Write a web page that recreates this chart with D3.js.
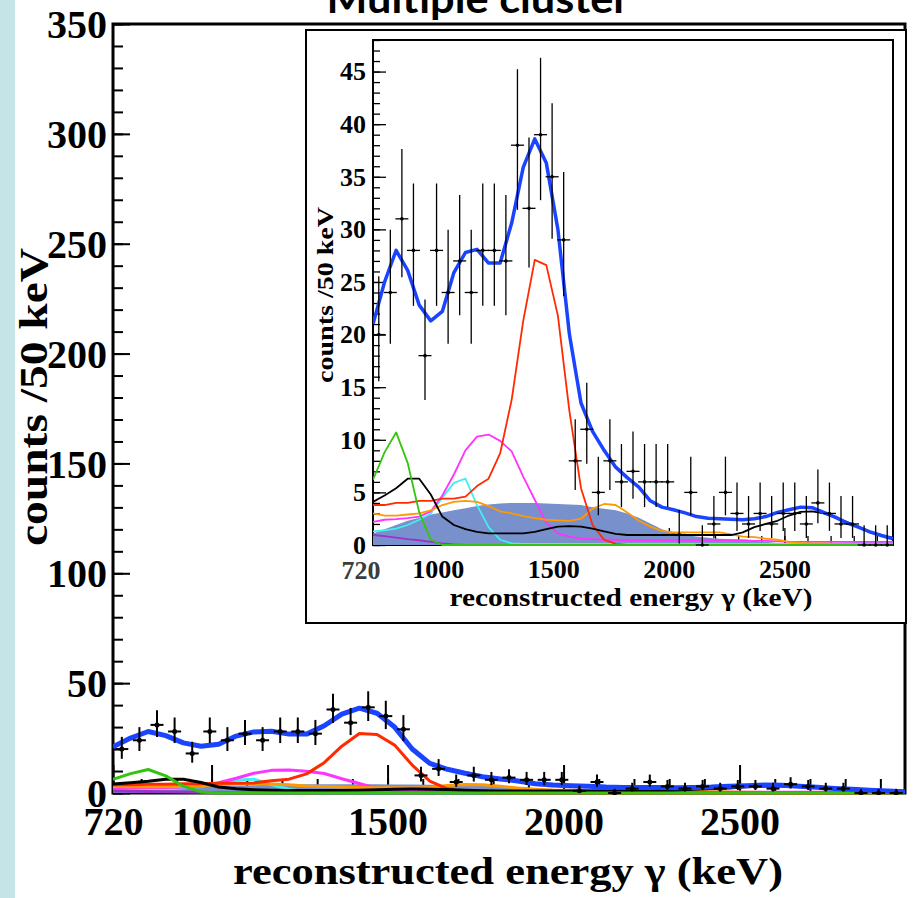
<!DOCTYPE html>
<html>
<head>
<meta charset="utf-8">
<script src="https://cdn.jsdelivr.net/npm/d3@7"></script>
<style>
  body { margin: 0; background: #fff; }
  svg { display: block; }
</style>
</head>
<body>
<svg id="chart" width="914" height="898"></svg>
<script>
// measured counts, one per 50 keV bin
const binCenters = [745, 795, 845, 895, 945, 995, 1045, 1095, 1145, 1195,
  1245, 1295, 1345, 1395, 1445, 1495, 1545, 1595, 1645, 1695,
  1745, 1795, 1845, 1895, 1945, 1995, 2045, 2095, 2145, 2195,
  2245, 2295, 2345, 2395, 2445, 2495, 2545, 2595, 2645, 2695,
  2745, 2795, 2845, 2895, 2945];
const counts = [20, 24, 31, 28, 18, 28, 24, 27, 24, 28,
  28, 27, 38, 32, 39, 35, 29, 8, 11, 5,
  8, 6, 7, 6, 6, 6, 1, 5, 0, 2,
  5, 3, 2, 3, 2, 3, 3, 2, 4, 3,
  2, 2, 0, 0, 0];

// fit components, sampled every 50 keV
const gridE = [720, 770, 820, 870, 920, 970, 1020, 1070, 1120, 1170,
  1220, 1270, 1320, 1370, 1420, 1470, 1520, 1570, 1620, 1670,
  1720, 1770, 1820, 1870, 1920, 1970, 2020, 2070, 2120, 2170,
  2220, 2270, 2320, 2370, 2420, 2470, 2520, 2570, 2620, 2670,
  2720, 2770, 2820, 2870, 2920, 2970];
const totalFit = [21.0, 25.0, 28.0, 26.1, 22.8, 21.3, 22.2, 25.9, 27.8, 28.1,
  26.8, 26.8, 30.6, 35.9, 38.6, 36.3, 30.0, 20.0, 13.5, 10.8,
  9.0, 7.4, 6.4, 5.5, 4.2, 3.6, 3.35, 3.05, 2.7, 2.55,
  2.5, 2.45, 2.4, 2.5, 2.7, 3.1, 3.35, 3.6, 3.55, 3.1,
  2.65, 2.1, 1.7, 1.25, 0.9, 0.6];
const redPeak = [3.8, 3.8, 4.0, 4.0, 4.2, 4.2, 4.4, 4.4, 4.6, 5.6,
  6.3, 8.7, 13.8, 21.3, 27.1, 26.6, 21.8, 12.7, 5.4, 1.9,
  0.5, 0.1, 0, 0, 0, 0, 0, 0, 0, 0,
  0, 0, 0, 0, 0, 0, 0, 0, 0, 0,
  0, 0, 0, 0, 0, 0];
const greenPeak = [6.2, 8.8, 10.7, 7.8, 3.1, 0.5, 0, 0, 0, 0,
  0, 0, 0, 0, 0, 0, 0, 0, 0, 0,
  0, 0, 0, 0, 0, 0, 0, 0, 0, 0,
  0, 0, 0, 0, 0, 0, 0, 0, 0, 0,
  0, 0, 0, 0, 0, 0];
const blackComp = [4.1, 4.7, 5.4, 6.3, 6.3, 4.8, 2.7, 1.9, 1.5, 1.25,
  1.1, 1.1, 1.1, 1.1, 1.25, 1.5, 1.75, 1.8, 1.75, 1.55,
  1.3, 1.05, 0.95, 0.95, 0.95, 0.95, 0.95, 0.95, 0.95, 0.95,
  0.95, 0.95, 1.2, 1.7, 2.0, 2.3, 2.8, 3.15, 3.2, 3.0,
  2.6, 2.2, 1.75, 1.2, 0.9, 0.7];
const magentaComp = [2.2, 2.4, 2.45, 2.55, 2.7, 3.2, 4.7, 6.7, 9.0, 10.3,
  10.5, 9.9, 8.9, 6.5, 4.3, 2.1, 1.1, 0.8, 0.6, 0.55,
  0.5, 0.5, 0.45, 0.45, 0.45, 0.45, 0.45, 0.45, 0.45, 0.45,
  0.45, 0.45, 0.45, 0.4, 0.4, 0.35, 0.3, 0.3, 0.3, 0.3,
  0.3, 0.3, 0.3, 0.3, 0.3, 0.3];
const cyanComp = [1.3, 1.4, 1.55, 1.9, 2.4, 3.0, 4.5, 5.9, 6.3, 3.8,
  1.7, 0.5, 0.15, 0.1, 0.1, 0.1, 0.1, 0.1, 0.1, 0.1,
  0.1, 0.1, 0.1, 0.1, 0.1, 0.1, 0.1, 0.1, 0.1, 0.1,
  0.1, 0.1, 0.1, 0.1, 0.1, 0.1, 0.1, 0.1, 0.1, 0.1,
  0.1, 0.15, 0.2, 0.2, 0.2, 0.2];
const orangeComp = [3.0, 2.8, 2.8, 2.9, 3.0, 3.3, 3.8, 4.1, 4.2, 4.1,
  3.7, 3.2, 3.0, 2.75, 2.55, 2.4, 2.35, 2.3, 2.5, 3.45,
  3.9, 3.8, 3.1, 2.3, 1.75, 1.35, 1.2, 1.2, 1.2, 1.2,
  1.2, 1.0, 0.8, 0.75, 0.6, 0.5, 0.3, 0.2, 0.15, 0.15,
  0.1, 0.1, 0.1, 0.1, 0.1, 0.1];
const filledBkg = [1.1, 1.5, 1.9, 2.3, 2.6, 2.9, 3.1, 3.3, 3.5, 3.7,
  3.85, 3.95, 4.0, 4.0, 4.0, 3.95, 3.9, 3.85, 3.8, 3.6,
  3.45, 3.3, 3.0, 2.6, 2.05, 1.5, 1.15, 0.95, 0.8, 0.7,
  0.6, 0.55, 0.45, 0.4, 0.3, 0.2, 0.15, 0.1, 0.1, 0.1,
  0.1, 0.1, 0.1, 0.1, 0.1, 0.1];
const purpleComp = [0.95, 0.85, 0.7, 0.55, 0.45, 0.3, 0.15, 0.05, 0, 0,
  0, 0, 0, 0, 0, 0, 0, 0, 0, 0,
  0, 0, 0, 0, 0, 0, 0, 0, 0, 0,
  0, 0, 0, 0, 0, 0, 0, 0, 0, 0,
  0, 0, 0, 0, 0, 0];

const mainYTicks = [0, 50, 100, 150, 200, 250, 300, 350];
const insetYTicks = [0, 5, 10, 15, 20, 25, 30, 35, 40, 45];
const xMajorTicks = [1000, 1500, 2000, 2500];

const serif = '"Liberation Serif", "Times New Roman", serif';
const svg = d3.select('#chart');

svg.append('rect').attr('width', 914).attr('height', 898).attr('fill', '#fff');
svg.append('rect').attr('width', 15).attr('height', 898).attr('fill', '#c4e4e8');

// poisson (Gehrels) error bars like ROOT's kPoisson
const errLo = n => n > 0 ? n - Math.sqrt(n - 0.25) : 0;
const errHi = n => n + 1 + Math.sqrt(n + 0.75);

const comps = [
  { vals: cyanComp, color: '#3ff0f0' },
  { vals: magentaComp, color: '#ff33ff' },
  { vals: orangeComp, color: '#ff9900' },
  { vals: purpleComp, color: '#9933cc' },
  { vals: redPeak, color: '#ff2a00' },
  { vals: blackComp, color: '#000' },
  { vals: greenPeak, color: '#33c40f' }
];

function panel(cfg) {
  const x = d3.scaleLinear().domain([720, 2970]).range([cfg.left, cfg.right]);
  const y = d3.scaleLinear().domain([0, cfg.ymax]).range([cfg.bottom, cfg.top]);
  const g = svg.append('g');

  const clipId = 'clip-' + cfg.name;
  g.append('clipPath').attr('id', clipId).append('rect')
    .attr('x', cfg.left).attr('y', cfg.top)
    .attr('width', cfg.right - cfg.left).attr('height', cfg.bottom - cfg.top + 2);

  // ticks (ROOT style, pointing inside)
  const yMinor = g.append('g').attr('transform', `translate(${cfg.left},0)`)
    .call(d3.axisLeft(y).tickValues(d3.range(0, cfg.ymax + 0.01, cfg.yMinorStep))
      .tickSize(-cfg.yMinorLen).tickFormat(''));
  const yMajor = g.append('g').attr('transform', `translate(${cfg.left},0)`)
    .call(d3.axisLeft(y).tickValues(cfg.yTicks).tickSize(-cfg.yMajorLen)
      .tickPadding(cfg.yPad).tickFormat(d3.format('d')));
  const xMinor = g.append('g').attr('transform', `translate(0,${cfg.bottom})`)
    .call(d3.axisBottom(x).tickValues(d3.range(800, 2970, 100)).tickSize(-cfg.xMinorLen).tickFormat(''));
  const xMajor = g.append('g').attr('transform', `translate(0,${cfg.bottom})`)
    .call(d3.axisBottom(x).tickValues(cfg.xTicks).tickSize(-cfg.xMajorLen)
      .tickPadding(cfg.xPad).tickFormat(d3.format('d')));
  [yMinor, yMajor, xMinor, xMajor].forEach(a => {
    a.select('.domain').remove();
    a.selectAll('line').attr('stroke', '#000').attr('stroke-width', cfg.tickW);
  });
  yMajor.selectAll('text').attr('font-family', serif).attr('font-weight', 'bold')
    .attr('font-size', cfg.tickFont).attr('fill', '#000').attr('dy', cfg.yLabelDy);
  xMajor.selectAll('text').attr('font-family', serif).attr('font-weight', 'bold')
    .attr('font-size', cfg.tickFont).attr('fill', '#000').attr('dy', '0.72em');

  // frame
  g.append('rect').attr('x', cfg.left).attr('y', cfg.top)
    .attr('width', cfg.right - cfg.left).attr('height', cfg.bottom - cfg.top)
    .attr('fill', 'none').attr('stroke', '#000').attr('stroke-width', cfg.frameW);

  const plot = g.append('g').attr('clip-path', `url(#${clipId})`);

  plot.append('path')
    .datum(gridE.map((e, i) => [e, filledBkg[i]]))
    .attr('fill', '#7890cc')
    .attr('d', d3.area().x(d => x(d[0])).y0(y(0)).y1(d => y(d[1])));

  const line = d3.line().x(d => x(d[0])).y(d => y(d[1]));
  comps.forEach(c => {
    plot.append('path')
      .datum(gridE.map((e, i) => [e, c.vals[i]]))
      .attr('fill', 'none').attr('stroke', c.color)
      .attr('stroke-width', cfg.compW).attr('stroke-linejoin', 'round')
      .attr('d', line);
  });

  plot.append('path')
    .datum(gridE.map((e, i) => [e, totalFit[i]]))
    .attr('fill', 'none').attr('stroke', '#1a44ff')
    .attr('stroke-width', cfg.fitW).attr('stroke-linejoin', 'round')
    .attr('d', line);

  // data points
  const pts = binCenters.map((c, i) => ({ c: c, n: counts[i] }));
  const dg = plot.append('g').attr('stroke', '#000').attr('stroke-width', cfg.errW);
  dg.selectAll('.ev').data(pts).join('line').attr('class', 'ev')
    .attr('x1', d => x(d.c)).attr('x2', d => x(d.c))
    .attr('y1', d => y(errLo(d.n))).attr('y2', d => y(errHi(d.n)));
  dg.selectAll('.eh').data(pts).join('line').attr('class', 'eh')
    .attr('x1', d => x(d.c) - cfg.markW / 2).attr('x2', d => x(d.c) + cfg.markW / 2)
    .attr('y1', d => y(d.n)).attr('y2', d => y(d.n));
  dg.selectAll('circle').data(pts).join('circle')
    .attr('cx', d => x(d.c)).attr('cy', d => y(d.n)).attr('r', cfg.dotR)
    .attr('fill', '#000').attr('stroke', 'none');

  return { x, y, g };
}

// main plot
panel({
  name: 'main', left: 113, right: 905, top: 24, bottom: 793, ymax: 350,
  yTicks: mainYTicks, yMinorStep: 10, yMajorLen: 17, yMinorLen: 10, yPad: 6,
  xTicks: [720].concat(xMajorTicks), xMajorLen: 28, xMinorLen: 14, xPad: 13,
  tickFont: 40, yLabelDy: '0.34em', tickW: 2, frameW: 3,
  compW: 3, fitW: 5, errW: 2, markW: 13, dotR: 2.5
});

svg.append('text')
  .attr('transform', 'translate(47,397) rotate(-90)')
  .attr('text-anchor', 'middle')
  .attr('font-family', serif).attr('font-weight', 'bold').attr('font-size', 40)
  .attr('textLength', 298).attr('lengthAdjust', 'spacingAndGlyphs')
  .text('counts /50 keV');

svg.append('text')
  .attr('x', 508).attr('y', 884)
  .attr('text-anchor', 'middle')
  .attr('font-family', serif).attr('font-weight', 'bold').attr('font-size', 38)
  .attr('textLength', 550).attr('lengthAdjust', 'spacingAndGlyphs')
  .text('reconstructed energy γ (keV)');

svg.append('text')
  .attr('x', 478).attr('y', 13)
  .attr('text-anchor', 'middle')
  .attr('font-family', 'Lato, "Open Sans", sans-serif').attr('font-weight', 'bold').attr('font-size', 40)
  .attr('textLength', 303).attr('lengthAdjust', 'spacingAndGlyphs')
  .text('Multiple cluster');

// inset pad
svg.append('rect').attr('x', 306).attr('y', 30).attr('width', 600).attr('height', 593)
  .attr('fill', '#fff').attr('stroke', '#000').attr('stroke-width', 2);

panel({
  name: 'inset', left: 373, right: 893, top: 40, bottom: 545, ymax: 48,
  yTicks: insetYTicks, yMinorStep: 1, yMajorLen: 13, yMinorLen: 7, yPad: 7,
  xTicks: xMajorTicks, xMajorLen: 17, xMinorLen: 9, xPad: 14,
  tickFont: 26, yLabelDy: '0.32em', tickW: 1.3, frameW: 2,
  compW: 1.8, fitW: 3.5, errW: 1.3, markW: 13, dotR: 1.8
});

svg.append('text')
  .attr('x', 361).attr('y', 579)
  .attr('text-anchor', 'middle')
  .attr('font-family', serif).attr('font-weight', 'bold').attr('font-size', 26)
  .attr('fill', '#3c3c3c')
  .text('720');

svg.append('text')
  .attr('transform', 'translate(333,295) rotate(-90)')
  .attr('text-anchor', 'middle')
  .attr('font-family', serif).attr('font-weight', 'bold').attr('font-size', 24)
  .attr('textLength', 176).attr('lengthAdjust', 'spacingAndGlyphs')
  .text('counts /50 keV');

svg.append('text')
  .attr('x', 631).attr('y', 606)
  .attr('text-anchor', 'middle')
  .attr('font-family', serif).attr('font-weight', 'bold').attr('font-size', 26)
  .attr('textLength', 363).attr('lengthAdjust', 'spacingAndGlyphs')
  .text('reconstructed energy γ (keV)');
</script>
</body>
</html>
